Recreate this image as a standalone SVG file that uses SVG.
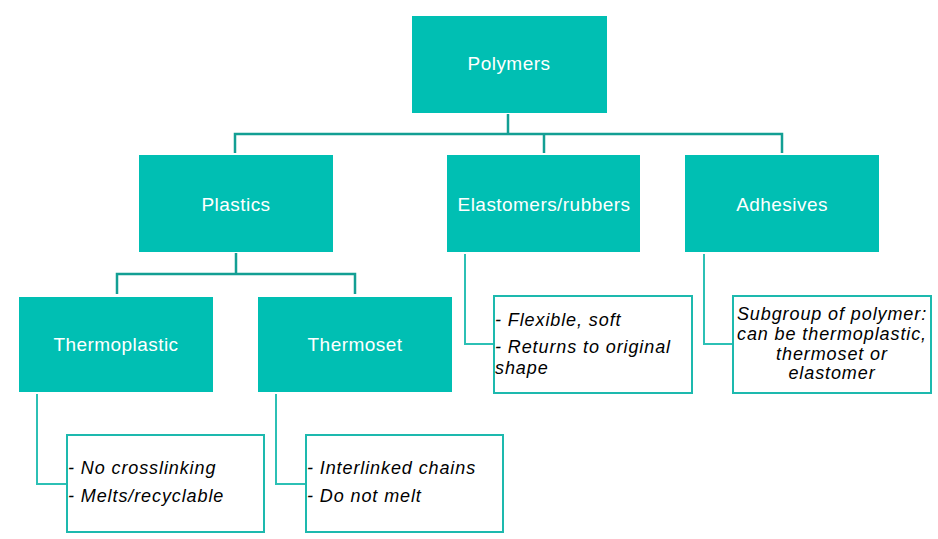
<svg xmlns="http://www.w3.org/2000/svg" width="938" height="539" viewBox="0 0 938 539">
<style>
.box{fill:#00BFB3;}
.lbl{font-family:"Liberation Sans",Arial,sans-serif;font-size:19px;fill:#ffffff;text-anchor:middle;letter-spacing:0.45px;}
.note{fill:#ffffff;stroke:#1DB9AE;stroke-width:2;}
.nt{font-family:"Liberation Sans",Arial,sans-serif;font-size:18px;font-style:italic;fill:#000000;letter-spacing:0.9px;}
.c1{fill:none;stroke:#139F94;stroke-width:2.5;}
.c2{fill:none;stroke:#2CC0B5;stroke-width:2;}
</style>
<rect width="938" height="539" fill="#ffffff"/>
<g id="connectors">
<path class="c1" d="M508,114 V134 M235,153 V134 H782 V153 M544,134 V153"/>
<path class="c1" d="M236,253 V274 M117,294 V274 H355 V294"/>
<path class="c2" d="M37,394 V484 H67"/>
<path class="c2" d="M276,394 V484 H306"/>
<path class="c2" d="M465,254 V344 H494"/>
<path class="c2" d="M704,254 V344 H733"/>
</g>
<g id="polymers">
<rect class="box" x="412" y="16" width="195" height="97"/>
<text class="lbl" x="509" y="70">Polymers</text>
</g>
<g id="plastics">
<rect class="box" x="139" y="155" width="194" height="97"/>
<text class="lbl" x="236" y="211">Plastics</text>
</g>
<g id="elastomers">
<rect class="box" x="447" y="155" width="193" height="97"/>
<text class="lbl" x="544" y="211">Elastomers/rubbers</text>
</g>
<g id="adhesives">
<rect class="box" x="685" y="155" width="194" height="97"/>
<text class="lbl" x="782" y="211">Adhesives</text>
</g>
<g id="thermoplastic">
<rect class="box" x="19" y="297" width="194" height="95"/>
<text class="lbl" x="116" y="351">Thermoplastic</text>
</g>
<g id="thermoset">
<rect class="box" x="258" y="297" width="194" height="95"/>
<text class="lbl" x="355" y="351">Thermoset</text>
</g>
<g id="note-thermoplastic">
<rect class="note" x="67" y="435" width="197" height="97"/>
<text class="nt" x="68" y="474">- No crosslinking</text>
<text class="nt" x="68" y="502">- Melts/recyclable</text>
</g>
<g id="note-thermoset">
<rect class="note" x="306" y="435" width="197" height="97"/>
<text class="nt" x="307" y="474">- Interlinked chains</text>
<text class="nt" x="307" y="502">- Do not melt</text>
</g>
<g id="note-elastomers">
<rect class="note" x="494" y="296" width="198" height="97"/>
<text class="nt" x="495" y="326">- Flexible, soft</text>
<text class="nt" x="495" y="353">- Returns to original</text>
<text class="nt" x="495" y="374">shape</text>
</g>
<g id="note-adhesives">
<rect class="note" x="733" y="296" width="198" height="97"/>
<text class="nt" x="832" y="320" text-anchor="middle">Subgroup of polymer:</text>
<text class="nt" x="832" y="340" text-anchor="middle">can be thermoplastic,</text>
<text class="nt" x="832" y="360" text-anchor="middle">thermoset or</text>
<text class="nt" x="832" y="379" text-anchor="middle">elastomer</text>
</g>
</svg>
